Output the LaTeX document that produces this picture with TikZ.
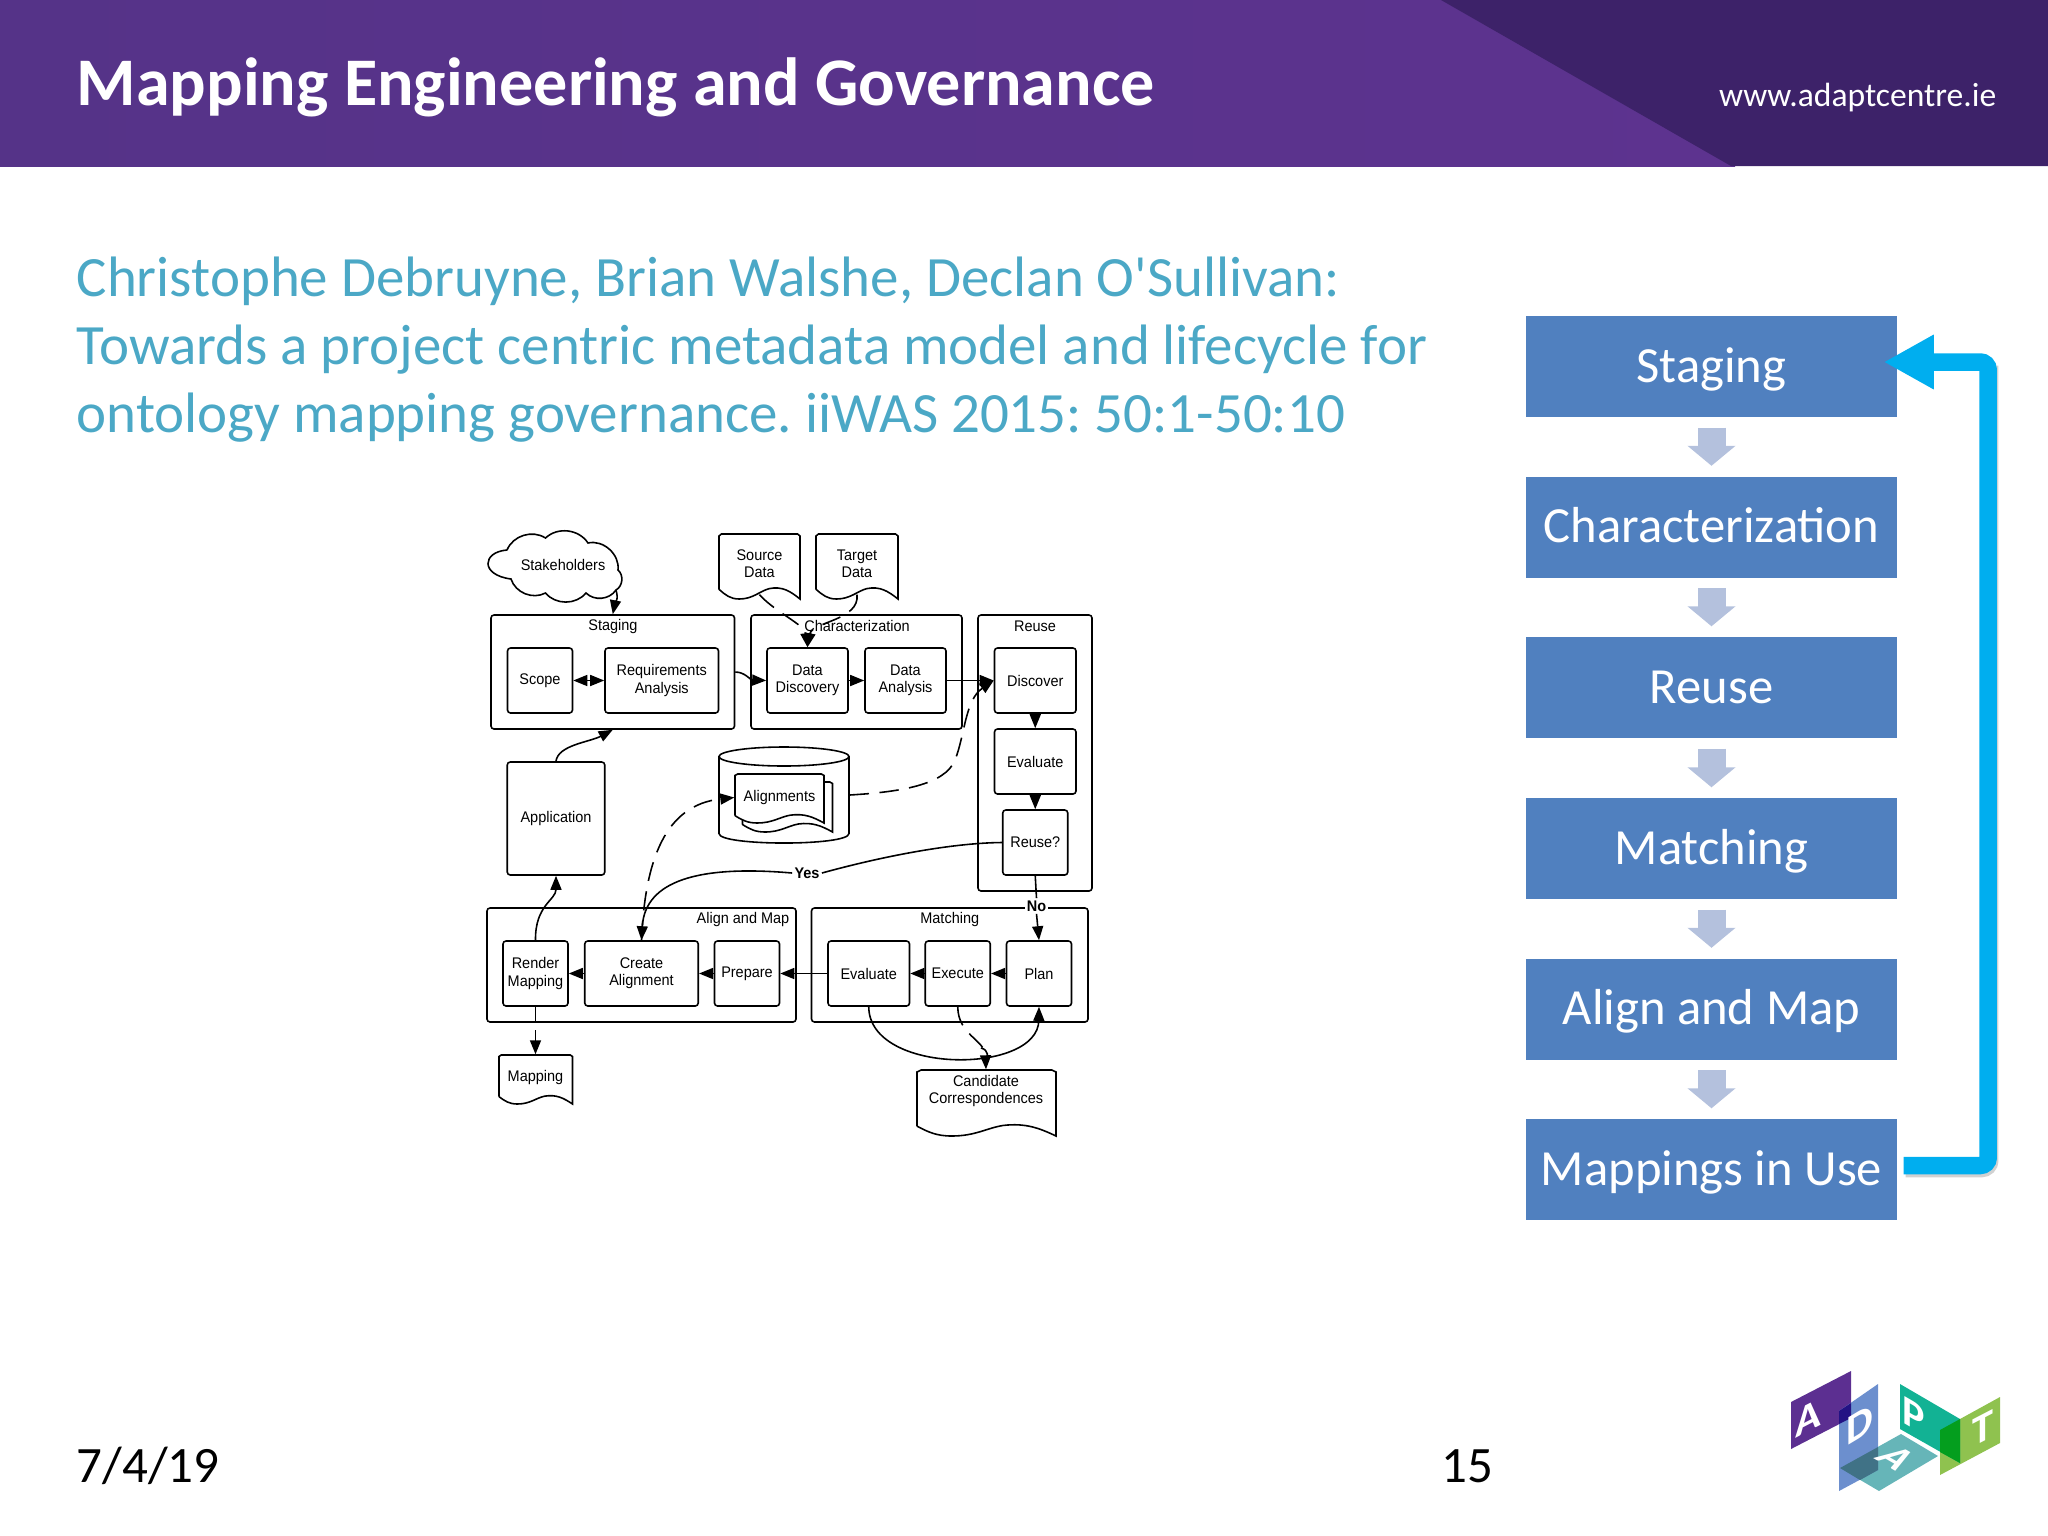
\documentclass[tikz,border=0pt]{standalone}
\usepackage{fontspec}
\setmainfont{Carlito}
\newfontfamily\citefont{Carlito}
\newfontfamily\diagfont[FakeStretch=0.94]{Liberation Sans}
\usetikzlibrary{arrows.meta,positioning,calc}

\definecolor{hdrdark}{HTML}{3D2269}
\definecolor{hdrleft}{HTML}{553388}
\definecolor{hdrright}{HTML}{5D338F}
\definecolor{citeblue}{HTML}{4BA8C6}
\definecolor{panelblue}{HTML}{5080BF}
\definecolor{panelarrow}{HTML}{B4C1DD}
\definecolor{loopblue}{HTML}{00AEEF}
\definecolor{logopurple}{HTML}{5C2F91}
\definecolor{logoblue}{HTML}{6C8FCE}
\definecolor{logoteal}{HTML}{66B5B8}
\definecolor{logogreen}{HTML}{12B294}
\definecolor{logolime}{HTML}{8FC24F}

\tikzset{
    flow/.style={line width=0.45pt, black},
    tipped/.style={flow, -{Triangle[length=0.14cm,width=0.11cm]}},
    dashline/.style={tipped, dash pattern=on 5.5pt off 3pt},
    sz/.style 2 args={minimum width=#1*0.01cm, minimum height=#2*0.01cm},
    stepbox/.style={draw, flow, rounded corners=0.03cm, inner sep=0pt, align=center,
        font=\diagfont\fontsize{4.38}{4.85}\selectfont},
    groupbox/.style={draw, flow, rounded corners=0.03cm, inner sep=0pt},
    grouplabel/.style={inner sep=0pt, font=\diagfont\fontsize{4.38}{4.85}\selectfont},
    doctext/.style={inner sep=0pt, align=center, font=\diagfont\fontsize{4.38}{4.85}\selectfont},
    panelbox/.style={fill=panelblue, text=white, inner sep=0pt, sz={371}{101},
        text height=0.35cm, text depth=0.04cm, font=\fontsize{14.4}{17}\selectfont},
    panelstep/.style={line width=0.28cm, panelarrow, shorten <=0.1cm, shorten >=0.1cm,
        -{Triangle[length=0.2cm,width=0.47cm]}},
    logoletter/.style={text=white, inner sep=0pt, transform shape,
        font=\bfseries\fontsize{12}{14}\selectfont},
}

% Outline of a document with a wavy lower edge
\newcommand{\docshape}[5][white]{
    \begin{scope}[shift={(#2,#3)}, x=#4*0.01cm, y=-#5*0.01cm]
        \draw[flow, fill=#1] (0,0.85) -- (0,0.03) -- (0.03,0) -- (0.97,0) -- (1,0.03) -- (1,1)
            .. controls (0.88,0.88) and (0.78,0.8) .. (0.62,0.84)
            .. controls (0.5,0.88) and (0.42,1) .. (0.25,1)
            .. controls (0.14,1) and (0.08,0.94) .. (0,0.85);
    \end{scope}
}

\begin{document}
\frenchspacing
\begin{tikzpicture}[x=0.01cm, y=-0.01cm]
    \useasboundingbox (0,0) rectangle (2048,1536);

    % Header band
    \shade[left color=hdrleft, right color=hdrright] (0,0) rectangle (1735,166);
    \fill[hdrdark] (1441,0) -- (2048,0) -- (2048,166) -- (1731,166) -- cycle;
    \node[anchor=base west, inner sep=0pt, text=white, font=\bfseries\fontsize{19.37}{22}\selectfont]
        (title) at (76,105) {Mapping Engineering and Governance};
    \node[anchor=base east, inner sep=0pt, text=white, font=\fontsize{9.55}{12}\selectfont]
        (website) at (1997,106) {www.adaptcentre.ie};

    % Citation
    \node[anchor=north west, inner sep=0pt, align=left, text=citeblue, font=\citefont\fontsize{16.2}{19.35}\selectfont]
        (citation) at (76,256.5) {Christophe Debruyne, Brian Walshe, Declan O'Sullivan:\\
        Towards a project centric metadata model and lifecycle for\\
        ontology mapping governance. iiWAS 2015: 50:1-50:10};

    % Footer
    \node[anchor=base west, inner sep=0pt, font=\fontsize{14.5}{18}\selectfont] (date) at (76,1482) {7/4/19};
    \node[anchor=base west, inner sep=0pt, font=\fontsize{14.5}{18}\selectfont] (pagenum) at (1441,1482) {15};

    % Lifecycle panel
    \foreach \name/\y/\txt in {stagebox/366.5/Staging, charbox/527/Characterization, reusebox/687.5/Reuse,
        matchbox/848.5/Matching, alignbox/1009/Align and Map, usebox/1169.5/Mappings in Use}
        \node[panelbox] (\name) at (1711.5,\y) {\txt};
    \foreach \a/\b in {stagebox/charbox, charbox/reusebox, reusebox/matchbox, matchbox/alignbox, alignbox/usebox}
        \draw[panelstep] (\a.south) -- (\b.north);

    % Loop back from the last step to the first
    \draw[line width=0.175cm, black, opacity=0.18, rounded corners=0.08cm]
        ([shift={(8,-1)}]usebox.east) -- ++(84,0) -- ++(0,-803);
    \draw[line width=0.175cm, loopblue, rounded corners=0.08cm, -{Triangle[length=0.5cm,width=0.51cm]}]
        ([shift={(6,-4)}]usebox.east) -- ++(84.5,0) |- ([shift={(-14,-4.5)}]stagebox.east);

    % Cloud
    \draw[flow] (507,550) to[bend left=50] (545.5,538) to[bend left=50] (588,543)
        to[bend left=55] (618,570) to[bend left=55] (616,590) to[bend left=50] (586,593)
        to[bend left=50] (545.5,593) to[bend left=50] (511,579)
        .. controls (480,575) and (482,552) .. (507,550);
    \node[grouplabel] (stakeholders) at (563,565) {Stakeholders};
    \coordinate (cloudout) at (616,590);

    % Documents
    \docshape{719}{534}{81}{65}
    \node[doctext, sz={81}{60}] (srcdata) at (759.5,564) {Source\\Data};
    \docshape{816}{534}{82}{65}
    \node[doctext, sz={82}{60}] (tgtdata) at (857,564) {Target\\Data};
    \docshape{499}{1055}{73.5}{49}
    \node[doctext, sz={73.5}{46}] (mapping) at (535.5,1078) {Mapping};
    \docshape{917}{1070}{139}{66}
    \node[doctext, sz={139}{42}] (candidate) at (986,1091) {Candidate\\Correspondences};

    % Staging
    \node[groupbox, sz={243.5}{114}] (staging) at (612.75,672) {};
    \node[grouplabel] (staginglabel) at (613,627) {Staging};
    \node[stepbox, sz={65}{65}] (scope) at (540,680.5) {Scope};
    \node[stepbox, sz={113.5}{65}] (reqs) at (661.75,680.5) {Requirements\\Analysis};

    % Characterization
    \node[groupbox, sz={211}{114}] (charact) at (856.5,672) {};
    \node[grouplabel] (charlabel) at (857,626) {Characterization};
    \node[stepbox, sz={81}{65}] (datadisc) at (807.5,680.5) {Data\\Discovery};
    \node[stepbox, sz={81}{65}] (dataana) at (905.5,680.5) {Data\\Analysis};

    % Reuse
    \node[groupbox, sz={114}{276}] (reuse) at (1035,753) {};
    \node[grouplabel] (reuselabel) at (1035,626) {Reuse};
    \node[stepbox, sz={81.5}{65}] (discover) at (1035.25,680.5) {Discover};
    \node[stepbox, sz={81.5}{65}] (evalreuse) at (1035.25,761.5) {Evaluate};
    \node[stepbox, sz={65}{65}] (reuseq) at (1035.25,842.5) {Reuse?};

    % Application and the alignment store
    \node[stepbox, sz={97.5}{113}] (application) at (556,818.5) {Application};
    \node[inner sep=0pt, sz={130}{96}] (store) at (784,795) {};
    \draw[flow] (784,756.5) ellipse [x radius=65, y radius=9.5];
    \draw[flow] (719,756.5) -- (719,833.5) .. controls (719,846.2) and (849,846.2) .. (849,833.5) -- (849,756.5);
    \docshape{742.5}{782}{90}{50}
    \docshape{735}{774}{89}{49}
    \node[doctext, sz={89}{47}] (alignments) at (779.5,797.5) {Alignments};

    % Align and Map
    \node[groupbox, sz={309}{114}] (alignmap) at (641.5,965) {};
    \node[grouplabel] (alignlabel) at (743,920) {Align and Map};
    \node[stepbox, sz={65}{65}] (render) at (535.5,973.5) {Render\\Mapping};
    \node[stepbox, sz={113.5}{65}] (create) at (641.5,973.5) {Create\\Alignment};
    \node[stepbox, sz={65}{65}] (prepare) at (747,973.5) {Prepare};

    % Matching
    \node[groupbox, sz={276.5}{114}] (matching) at (949.75,965) {};
    \node[grouplabel] (matchlabel) at (949.75,920) {Matching};
    \node[stepbox, sz={81.5}{65}] (evalmatch) at (868.75,973.5) {Evaluate};
    \node[stepbox, sz={65}{65}] (execute) at (957.75,973.5) {Execute};
    \node[stepbox, sz={65}{65}] (plan) at (1039,973.5) {Plan};

    % Straight arrows
    \draw[tipped, {Triangle[length=0.14cm,width=0.11cm]}-{Triangle[length=0.14cm,width=0.11cm]}] (scope) -- (reqs);
    \foreach \a/\b in {datadisc/dataana, dataana/discover, discover/evalreuse, evalreuse/reuseq,
        plan/execute, execute/evalmatch, evalmatch/prepare, prepare/create, create/render}
        \draw[tipped] (\a) -- (\b);

    % Curved arrows
    \draw[tipped] (cloudout) .. controls (619,600) and (615,603) .. (staging.north);
    \draw[tipped] (staging.east) .. controls (745,672) and (750,680) .. (datadisc.west);
    \draw[tipped] (application.north) .. controls (558,745) and (590,742) .. (staging.south);
    \draw[tipped] (render.north) .. controls (535,905) and (556,900) .. (application.south);

    % Decision labels sit over the lines
    \node[inner sep=0.5pt, fill=white, font=\diagfont\bfseries\fontsize{4.38}{5}\selectfont] (yes) at (807,873) {Yes};
    \node[inner sep=0.5pt, fill=white, font=\diagfont\bfseries\fontsize{4.38}{5}\selectfont] (no) at (1036.5,906) {No};
    \draw[flow] (reuseq.west) .. controls (950,843) and (880,857) .. (yes.east);
    \draw[tipped] (yes.west) .. controls (700,865) and (645,880) .. (create.north);
    \draw[flow] (reuseq.south) -- (no.north);
    \draw[tipped] (no.south) -- (plan.north);

    % Mapping output, with its small gap below the group
    \coordinate (mapgapa) at (535.5,1022);
    \coordinate (mapgapb) at (535.5,1030);
    \draw[flow] (render.south) -- (mapgapa);
    \draw[tipped] (mapgapb) -- (mapping.north);

    % Matching loop
    \draw[tipped] (evalmatch.south) .. controls (869,1075) and (1038,1075) .. (plan.south);

    % Dashed arrows
    \draw[dashline] (srcdata.south) .. controls (775,612) and (805,625) .. (datadisc.north);
    \draw[dashline] (tgtdata.south) .. controls (860,620) and (812,622) .. (datadisc.north);
    \draw[dashline] (store.east) .. controls (900,792) and (945,785) .. (955,760)
        .. controls (965,735) and (965,700) .. (discover.west);
    \draw[dashline] (create.north) .. controls (645,860) and (665,805) .. (alignments.west);
    \draw[dashline] (execute.south) .. controls (958,1035) and (985,1040) .. (candidate.north);

    % Small line jump on the dashed arrow
    \draw[flow] (981,1048) .. controls (989,1050) and (989,1058) .. (984,1060);

    % Logo
    \fill[logopurple] (1791,1402) -- (1851,1371) -- (1851,1418) -- (1791,1449) -- cycle;
    \fill[logoteal] (1901,1434) -- (1938,1456) -- (1879,1491) -- (1840,1468) -- cycle;
    \fill[logoblue] (1839,1411) -- (1878,1384) -- (1878,1470) -- (1839,1491) -- cycle;
    \fill[logolime] (2000,1397) -- (2000,1443) -- (1940,1475) -- (1940,1430) -- cycle;
    \fill[logogreen] (1900,1384) -- (1960,1419) -- (1960,1463) -- (1900,1429) -- cycle;
    % Overlaps between the panels
    \fill[black!45!logopurple!70!blue] (1839,1411) -- (1851,1403) -- (1851,1418) -- (1839,1424) -- cycle;
    \fill[blue!10!logoteal!70!black] (1840,1468) -- (1878,1447) -- (1878,1470) -- (1860,1480) -- cycle;
    \fill[green!60!black!80!logogreen] (1940,1430) -- (1960,1419) -- (1960,1463) -- (1940,1452) -- cycle;
    \node[logoletter, yslant=0.52] (logoa) at (1808,1418) {A};
    \node[logoletter, yslant=0.6] (logod) at (1860,1425) {D};
    \node[logoletter, yslant=-0.58] (logop) at (1914,1415) {P};
    \node[logoletter, yslant=0.52] (logot) at (1983,1428) {T};
    \node[logoletter, cm={0.87,-0.5,0.87,0.5,(0,0)}] (logofloor) at (1897,1458) {A};
\end{tikzpicture}
\end{document}
